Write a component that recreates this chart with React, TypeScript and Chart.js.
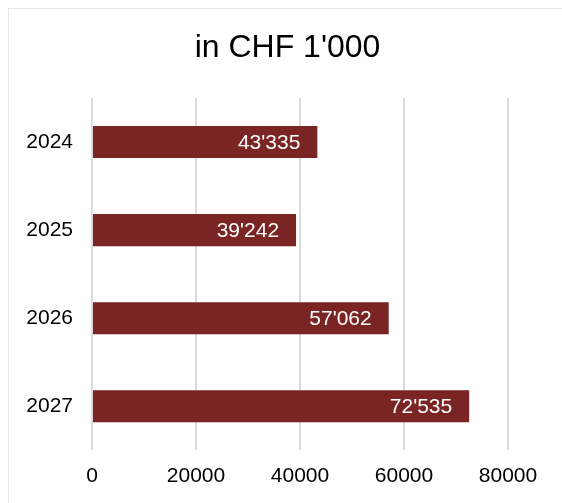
import React, { useEffect, useRef } from "react";
import { Chart, registerables } from "chart.js";

Chart.register(...registerables);

const categories = ["2024", "2025", "2026", "2027"];
const values = [43335, 39242, 57062, 72535];
const titleText = "in CHF 1'000";
const xMin = 0;
const xMax = 80000;
const xStep = 20000;

const FONT = "'Liberation Sans', Arial, Helvetica, sans-serif";
const BAR_COLOR = "#7A2424";
const GRID_COLOR = "#dcdcdc";

function fmt(v: number): string {
  return String(Math.round(v)).replace(/\B(?=(\d{3})+(?!\d))/g, "'");
}

const valueLabels = {
  id: "valueLabels",
  afterLayout(chart: any) {
    const tb = chart.titleBlock;
    if (tb) {
      tb.left = 0;
      tb.right = 557;
      tb.width = 557;
    }
  },
  afterDatasetsDraw(chart: any) {
    const ctx = chart.ctx;
    const meta = chart.getDatasetMeta(0);
    const data = chart.data.datasets[0].data as number[];
    ctx.save();
    ctx.font = `21px ${FONT}`;
    ctx.fillStyle = "#ffffff";
    ctx.textAlign = "right";
    ctx.textBaseline = "middle";
    meta.data.forEach((bar: any, i: number) => {
      ctx.fillText(fmt(data[i]), bar.x - 17, bar.y + 1);
    });
    ctx.restore();
  },
};

export default function App() {
  const ref = useRef<HTMLCanvasElement | null>(null);

  useEffect(() => {
    if (!ref.current) return;
    const chart = new Chart(ref.current, {
      type: "bar",
      data: {
        labels: categories,
        datasets: [
          {
            data: values,
            backgroundColor: BAR_COLOR,
            borderWidth: 0,
            categoryPercentage: 0.8,
            barPercentage: 0.455,
          },
        ],
      },
      options: {
        indexAxis: "y",
        responsive: false,
        animation: false,
        layout: { padding: { left: 0, right: 54, top: 0, bottom: 1.5 } },
        plugins: {
          legend: { display: false },
          tooltip: { enabled: false },
          title: {
            display: true,
            text: titleText,
            color: "#000",
            font: { family: FONT, size: 32, weight: "normal" },
            padding: { top: 20, bottom: 30.6 },
          },
        },
        scales: {
          x: {
            min: xMin,
            max: xMax,
            ticks: {
              stepSize: xStep,
              color: "#000",
              font: { family: FONT, size: 21 },
              padding: 13,
              maxRotation: 0,
              callback: (v: any) => String(v),
            },
            grid: { color: GRID_COLOR, lineWidth: 2, drawTicks: false },
            border: { display: false },
          },
          y: {
            ticks: {
              color: "#000",
              font: { family: FONT, size: 21 },
              padding: 19,
            },
            grid: { display: false, drawTicks: false },
            border: { display: false },
            afterFit: (scale: any) => {
              scale.width = 83;
            },
          },
        },
      },
      plugins: [valueLabels],
    } as any);
    return () => chart.destroy();
  }, []);

  return (
    <div
      style={{
        position: "fixed",
        left: 8,
        top: 8,
        width: 554,
        height: 495,
        boxSizing: "border-box",
        borderTop: "1px solid #e6e6e6",
        borderLeft: "1px solid #e6e6e6",
        background: "#fff",
        overflow: "hidden",
      }}
    >
      <canvas
        ref={ref}
        width={553}
        height={494}
        style={{ display: "block", width: 553, height: 494 }}
      />
    </div>
  );
}
